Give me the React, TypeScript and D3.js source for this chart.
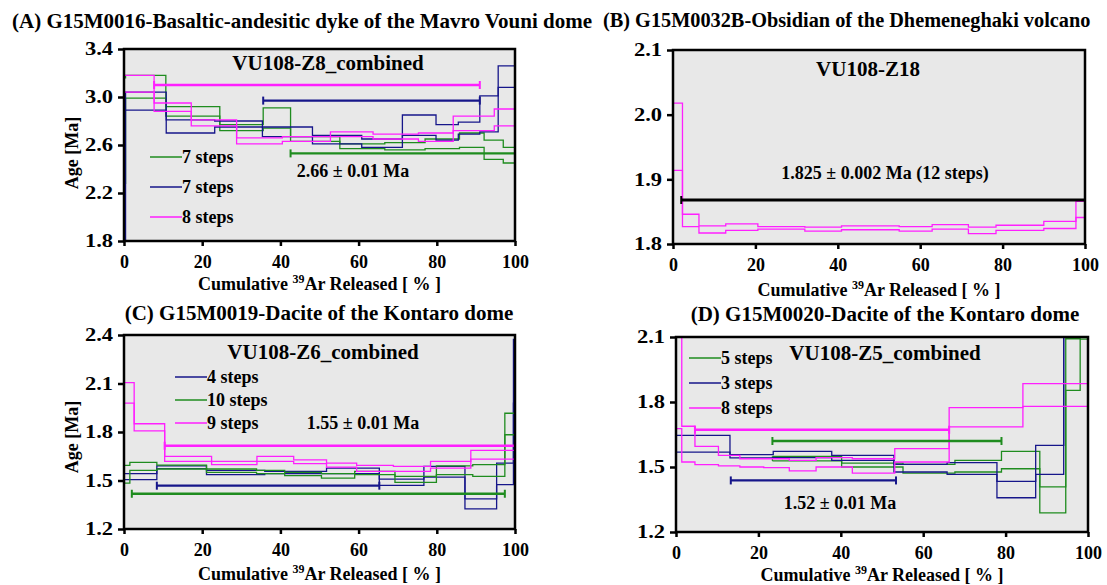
import React, { useEffect, useRef } from 'react';
import * as d3 from 'd3';

// each step: [start %, end %, lower age, upper age]
type Step = [number, number, number, number];
// plateau: [start %, end %, age]
type Plateau = [number, number, number];

const xTicks = [0, 20, 40, 60, 80, 100];

// (A) G15M0016
const aYTicks = [1.8, 2.2, 2.6, 3.0, 3.4];
const aGreenSteps: Step[] = [
    [0, 0.4, 2.28, 3.16], [0.4, 10.7, 2.99, 3.18], [10.7, 24.5, 2.84, 2.92], [24.5, 35.6, 2.72, 2.77],
    [35.6, 42.6, 2.74, 2.91], [42.6, 55.2, 2.63, 2.67], [55.2, 66.7, 2.57, 2.61], [66.7, 77.0, 2.56, 2.62],
    [77.0, 85.8, 2.57, 2.65], [85.8, 92.1, 2.58, 2.70], [92.1, 97.0, 2.48, 2.64], [97.0, 100, 2.45, 2.58]
];
const aBlueSteps: Step[] = [
    [0, 0.4, 1.6, 2.89], [0.4, 10.8, 2.89, 3.04], [10.8, 23.2, 2.70, 2.81], [23.2, 35.4, 2.75, 2.80],
    [35.4, 48.2, 2.67, 2.75], [48.2, 60.8, 2.61, 2.68], [60.8, 71.2, 2.58, 2.65], [71.2, 79.8, 2.68, 2.85],
    [79.8, 85.5, 2.64, 2.77], [85.5, 91.0, 2.69, 2.79], [91.0, 95.7, 2.71, 3.01], [95.7, 100, 3.08, 3.26]
];
const aPinkSteps: Step[] = [
    [0, 7.7, 3.04, 3.18], [7.7, 17.2, 2.88, 2.95], [17.2, 28.8, 2.76, 2.81], [28.8, 40.5, 2.61, 2.66],
    [40.5, 52.8, 2.63, 2.67], [52.8, 63.7, 2.67, 2.71], [63.7, 75.3, 2.65, 2.69], [75.3, 84.2, 2.63, 2.70],
    [84.2, 94.7, 2.72, 2.84], [94.7, 100, 2.76, 2.90]
];
const aPlateaus: Plateau[] = [[42.6, 100, 2.53], [35.6, 91.0, 2.97], [7.7, 91.0, 3.10]];
const aLegend = ['7 steps', '7 steps', '8 steps'];

// (B) G15M0032B
const bYTicks = [1.8, 1.9, 2.0, 2.1];
const bPinkSteps: Step[] = [
    [0, 2.3, 1.914, 2.018], [2.3, 6.3, 1.827, 1.846], [6.3, 12.8, 1.817, 1.828], [12.8, 20.6, 1.821, 1.831],
    [20.6, 32.0, 1.823, 1.827], [32.0, 40.9, 1.820, 1.826], [40.9, 54.9, 1.822, 1.828], [54.9, 62.9, 1.820, 1.827],
    [62.9, 71.7, 1.823, 1.830], [71.7, 78.4, 1.816, 1.826], [78.4, 90.0, 1.821, 1.829], [90.0, 97.8, 1.824, 1.835],
    [97.8, 100, 1.841, 1.866]
];
const bPlateaus: Plateau[] = [[2.0, 100, 1.868]];

// (C) G15M0019
const cYTicks = [1.2, 1.5, 1.8, 2.1, 2.4];
const cBlueSteps: Step[] = [
    [0, 8.4, 1.505, 1.542], [8.4, 21.1, 1.573, 1.591], [21.1, 36.0, 1.536, 1.563], [36.0, 51.8, 1.542, 1.556],
    [51.8, 65.3, 1.542, 1.577], [65.3, 76.7, 1.470, 1.509], [76.7, 87.2, 1.521, 1.587], [87.2, 95.3, 1.324, 1.386],
    [95.3, 99.6, 1.474, 1.608], [99.6, 100, 1.978, 2.373]
];
const cGreenSteps: Step[] = [
    [0, 1.5, 1.484, 1.593], [1.5, 8.4, 1.563, 1.612], [8.4, 21.1, 1.571, 1.595], [21.1, 33.9, 1.550, 1.571],
    [33.9, 41.1, 1.542, 1.563], [41.1, 50.5, 1.530, 1.550], [50.5, 59.0, 1.515, 1.542], [59.0, 69.3, 1.536, 1.556],
    [69.3, 79.9, 1.488, 1.526], [79.9, 89.2, 1.536, 1.591], [89.2, 97.4, 1.526, 1.598], [97.4, 100, 1.783, 1.916]
];
const cPinkSteps: Step[] = [
    [0, 2.6, 1.978, 2.106], [2.6, 10.4, 1.807, 1.851], [10.4, 22.4, 1.618, 1.649], [22.4, 34.0, 1.598, 1.618],
    [34.0, 43.4, 1.618, 1.649], [43.4, 51.8, 1.604, 1.628], [51.8, 59.5, 1.583, 1.608], [59.5, 68.9, 1.556, 1.593],
    [68.9, 78.4, 1.556, 1.587], [78.4, 88.7, 1.577, 1.618], [88.7, 100, 1.632, 1.686]
];
const cPlateaus: Plateau[] = [[8.4, 65.3, 1.468], [2.0, 97.4, 1.418], [10.4, 100, 1.715]];
const cLegend = ['4 steps', '10 steps', '9 steps'];

// (D) G15M0020
const dYTicks = [1.2, 1.5, 1.8, 2.1];
const dGreenSteps: Step[] = [
    [23.4, 40.2, 1.528, 1.549], [40.2, 55.1, 1.500, 1.518], [55.1, 67.7, 1.472, 1.512], [67.7, 79.0, 1.477, 1.531],
    [79.0, 88.3, 1.492, 1.572], [88.3, 94.6, 1.288, 1.408], [94.6, 98.1, 1.854, 2.092], [98.1, 100, 2.09, 2.2]
];
const dBlueSteps: Step[] = [
    [0, 13.1, 1.569, 1.646], [13.1, 23.6, 1.542, 1.557], [23.6, 37.8, 1.543, 1.572], [37.8, 52.9, 1.531, 1.554],
    [52.9, 65.8, 1.477, 1.512], [65.8, 77.9, 1.466, 1.520], [77.9, 87.3, 1.358, 1.434], [87.3, 94.1, 1.466, 1.600],
    [94.1, 100, 2.1, 2.3]
];
const dPinkSteps: Step[] = [
    [0, 1.4, 1.677, 2.2], [1.4, 4.6, 1.523, 1.688], [4.6, 10.3, 1.511, 1.595], [10.3, 15.5, 1.505, 1.554],
    [15.5, 21.3, 1.500, 1.538], [21.3, 27.5, 1.497, 1.538], [27.5, 34.0, 1.482, 1.531], [34.0, 42.8, 1.500, 1.543],
    [42.8, 53.1, 1.472, 1.538], [53.1, 66.3, 1.523, 1.585], [66.3, 84.2, 1.685, 1.774], [84.2, 100, 1.780, 1.885]
];
const dPlateaus: Plateau[] = [[23.4, 79.0, 1.620], [13.3, 53.4, 1.438], [4.6, 66.3, 1.672]];
const dLegend = ['5 steps', '3 steps', '8 steps'];

const GREEN = '#1f8c1f';
const BLUE = '#16168a';
const PINK = '#ff1fff';
const FONT = '"Liberation Serif", "Times New Roman", serif';

const panels = [
    {
        id: 'a', left: 124, right: 515, top: 49, bottom: 241, yDomain: [1.8, 3.4], yTicks: aYTicks,
        series: [{ steps: aGreenSteps, color: GREEN }, { steps: aBlueSteps, color: BLUE }, { steps: aPinkSteps, color: PINK }],
        plateaus: aPlateaus, plateauColors: [GREEN, BLUE, PINK],
        legend: aLegend, legendColors: [GREEN, BLUE, PINK], legendX: 150, legendY: [157, 187, 217],
        title: '(A) G15M0016-Basaltic-andesitic dyke of the Mavro Vouni dome', titleX: 12, titleY: 28, titleAnchor: 'start', titleSize: 21,
        sample: 'VU108-Z8_combined', sampleX: 328, sampleY: 70,
        age: '2.66 ± 0.01 Ma', ageX: 353, ageY: 177,
        xTitleY: 290, yLabel: true, yLabelY: 153
    },
    {
        id: 'b', left: 673, right: 1085, top: 50, bottom: 244, yDomain: [1.8, 2.1], yTicks: bYTicks,
        series: [{ steps: bPinkSteps, color: PINK }],
        plateaus: bPlateaus, plateauColors: ['#000'],
        legend: [], legendColors: [], legendX: 0, legendY: [],
        title: '(B) G15M0032B-Obsidian of the Dhemeneghaki volcano', titleX: 603, titleY: 27, titleAnchor: 'start', titleSize: 20.3,
        sample: 'VU108-Z18', sampleX: 868, sampleY: 76,
        age: '1.825 ± 0.002 Ma (12 steps)', ageX: 885, ageY: 179,
        xTitleY: 296, yLabel: false, yLabelY: 0
    },
    {
        id: 'c', left: 124, right: 515, top: 335, bottom: 529, yDomain: [1.2, 2.4], yTicks: cYTicks,
        series: [{ steps: cBlueSteps, color: BLUE }, { steps: cGreenSteps, color: GREEN }, { steps: cPinkSteps, color: PINK }],
        plateaus: cPlateaus, plateauColors: [BLUE, GREEN, PINK],
        legend: cLegend, legendColors: [BLUE, GREEN, PINK], legendX: 175, legendY: [377, 400, 423],
        title: '(C) G15M0019-Dacite of the Kontaro dome', titleX: 319, titleY: 320, titleAnchor: 'middle', titleSize: 21,
        sample: 'VU108-Z6_combined', sampleX: 323, sampleY: 359,
        age: '1.55 ± 0.01 Ma', ageX: 363, ageY: 429,
        xTitleY: 580, yLabel: true, yLabelY: 437
    },
    {
        id: 'd', left: 676, right: 1088, top: 337, bottom: 532, yDomain: [1.2, 2.1], yTicks: dYTicks,
        series: [{ steps: dGreenSteps, color: GREEN }, { steps: dBlueSteps, color: BLUE }, { steps: dPinkSteps, color: PINK }],
        plateaus: dPlateaus, plateauColors: [GREEN, BLUE, PINK],
        legend: dLegend, legendColors: [GREEN, BLUE, PINK], legendX: 689, legendY: [358, 383, 408],
        title: '(D) G15M0020-Dacite of the Kontaro dome', titleX: 885, titleY: 321, titleAnchor: 'middle', titleSize: 21,
        sample: 'VU108-Z5_combined', sampleX: 885, sampleY: 360,
        age: '1.52 ± 0.01 Ma', ageX: 840, ageY: 509,
        xTitleY: 581, yLabel: false, yLabelY: 0
    }
];

function drawPanel(svg, p) {
    const x = d3.scaleLinear().domain([0, 100]).range([p.left, p.right]);
    const y = d3.scaleLinear().domain(p.yDomain).range([p.bottom, p.top]);
    const g = svg.append('g').attr('font-family', FONT).attr('font-weight', 'bold');

    svg.append('defs').append('clipPath').attr('id', `clip-${p.id}`)
        .append('rect')
        .attr('x', p.left).attr('y', p.top)
        .attr('width', p.right - p.left).attr('height', p.bottom - p.top);

    // plot background
    g.append('rect')
        .attr('x', p.left).attr('y', p.top)
        .attr('width', p.right - p.left).attr('height', p.bottom - p.top)
        .attr('fill', '#e8e8e8');

    const plot = g.append('g').attr('clip-path', `url(#clip-${p.id})`);

    // age spectrum: upper and lower step lines, closed at both ends
    const stepLine = d3.line().x(d => x(d[0])).y(d => y(d[1])).curve(d3.curveStepAfter);
    p.series.forEach(s => {
        const steps = s.steps;
        const last = steps[steps.length - 1];
        const upper = steps.map(d => [d[0], d[3]]).concat([[last[1], last[3]]]);
        const lower = steps.map(d => [d[0], d[2]]).concat([[last[1], last[2]]]);
        [upper, lower].forEach(pts => {
            plot.append('path')
                .datum(pts)
                .attr('d', stepLine)
                .attr('fill', 'none')
                .attr('stroke', s.color)
                .attr('stroke-width', 1.3);
        });
        [[steps[0][0], steps[0][2], steps[0][3]], [last[1], last[2], last[3]]].forEach(e => {
            plot.append('line')
                .attr('x1', x(e[0])).attr('x2', x(e[0]))
                .attr('y1', y(e[1])).attr('y2', y(e[2]))
                .attr('stroke', s.color).attr('stroke-width', 1.3);
        });
    });

    // plateau bars with end caps
    p.plateaus.forEach((pl, i) => {
        const c = p.plateauColors[i];
        const w = p.id === 'b' ? 3 : 2.3;
        plot.append('line')
            .attr('x1', x(pl[0])).attr('x2', x(pl[1]))
            .attr('y1', y(pl[2])).attr('y2', y(pl[2]))
            .attr('stroke', c).attr('stroke-width', w);
        [pl[0], pl[1]].forEach(e => {
            plot.append('line')
                .attr('x1', x(e)).attr('x2', x(e))
                .attr('y1', y(pl[2]) - 4).attr('y2', y(pl[2]) + 4)
                .attr('stroke', c).attr('stroke-width', 2);
        });
    });

    // frame
    g.append('rect')
        .attr('x', p.left).attr('y', p.top)
        .attr('width', p.right - p.left).attr('height', p.bottom - p.top)
        .attr('fill', 'none').attr('stroke', '#000').attr('stroke-width', 2.5);

    // axes
    const xAxis = d3.axisBottom(x).tickValues(xTicks).tickSize(5).tickSizeOuter(0).tickFormat(d3.format('d'));
    const xg = g.append('g').attr('transform', `translate(0,${p.bottom})`).call(xAxis);
    xg.select('.domain').remove();
    xg.selectAll('line').attr('stroke', '#000').attr('stroke-width', 2.5);
    xg.selectAll('text')
        .attr('y', 27).attr('dy', 0)
        .attr('fill', '#000')
        .attr('font-size', '18px').attr('font-family', FONT).attr('font-weight', 'bold');

    const yAxis = d3.axisLeft(y).tickValues(p.yTicks).tickSize(6).tickPadding(5).tickSizeOuter(0).tickFormat(d3.format('.1f'));
    const yg = g.append('g').attr('transform', `translate(${p.left},0)`).call(yAxis);
    yg.select('.domain').remove();
    yg.selectAll('line').attr('stroke', '#000').attr('stroke-width', 2.5);
    // the y labels are drawn a bit wider than normal in the original
    yg.selectAll('text')
        .attr('x', -11 / 1.25)
        .attr('transform', 'scale(1.25,1)')
        .attr('fill', '#000')
        .attr('font-size', '18px').attr('font-family', FONT).attr('font-weight', 'bold');

    // x axis title with superscript
    const xt = g.append('text')
        .attr('x', (p.left + p.right) / 2).attr('y', p.xTitleY)
        .attr('text-anchor', 'middle').attr('font-size', '18px');
    xt.append('tspan').text('Cumulative ');
    xt.append('tspan').attr('font-size', '12px').attr('dy', -7).text('39');
    xt.append('tspan').attr('dy', 7).text('Ar Released [ % ]');

    if (p.yLabel) {
        g.append('text')
            .attr('transform', `translate(78,${p.yLabelY}) rotate(-90)`)
            .attr('text-anchor', 'middle').attr('font-size', '18px')
            .text('Age [Ma]');
    }

    // panel title
    g.append('text')
        .attr('x', p.titleX).attr('y', p.titleY)
        .attr('text-anchor', p.titleAnchor).attr('font-size', `${p.titleSize}px`)
        .text(p.title);

    // sample name and age
    g.append('text')
        .attr('x', p.sampleX).attr('y', p.sampleY)
        .attr('text-anchor', 'middle').attr('font-size', '21px')
        .text(p.sample);
    g.append('text')
        .attr('x', p.ageX).attr('y', p.ageY)
        .attr('text-anchor', 'middle').attr('font-size', '18px')
        .text(p.age);

    // legend
    p.legend.forEach((label, i) => {
        const ly = p.legendY[i];
        g.append('line')
            .attr('x1', p.legendX).attr('x2', p.legendX + 32)
            .attr('y1', ly).attr('y2', ly)
            .attr('stroke', p.legendColors[i]).attr('stroke-width', 1.5);
        g.append('text')
            .attr('x', p.legendX + 32).attr('y', ly + 6)
            .attr('font-size', '18px')
            .text(label);
    });
}

const App = () => {
    const svgRef = useRef(null);

    useEffect(() => {
        const svg = d3.select(svgRef.current);
        svg.selectAll('*').remove();
        svg.append('rect').attr('width', 1107).attr('height', 585).attr('fill', '#fff');
        panels.forEach(p => drawPanel(svg, p));
    }, []);

    return (
        <svg ref={svgRef} width={1107} height={585}
            style={{ position: 'absolute', left: 0, top: 0, display: 'block' }} />
    );
};

export default App;
